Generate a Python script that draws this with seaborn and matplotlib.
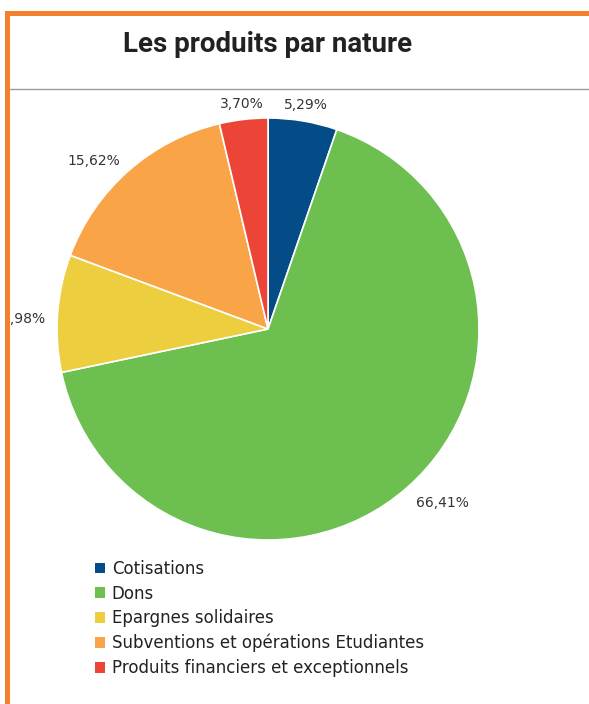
import matplotlib
matplotlib.use("Agg")
import matplotlib.pyplot as plt
import numpy as np
import seaborn as sns
from matplotlib.patches import Rectangle, Patch
from matplotlib.lines import Line2D

# Produits par nature (en %)
categories = [
    "Cotisations",
    "Dons",
    "Epargnes solidaires",
    "Subventions et opérations Etudiantes",
    "Produits financiers et exceptionnels",
]
values = [5.29, 66.41, 8.98, 15.62, 3.70]
value_labels = ["5,29%", "66,41%", "8,98%", "15,62%", "3,70%"]
colors = ["#034c87", "#6dbf4f", "#ecce3f", "#f8a447", "#ec4437"]
title = "Les produits par nature"

sns.set_theme(style="white")
plt.rcParams["font.family"] = ["DejaVu Sans"]

W, H = 589, 704
fig = plt.figure(figsize=(W / 100, H / 100), dpi=100)
fig.patch.set_facecolor("white")


def fx(px):
    return px / W


def fy(py):
    return 1 - py / H


# pie area (square in pixels)
cx, cy, r = 268, 329, 211
ax = fig.add_axes([fx(cx - r), fy(cy + r), 2 * r / W, 2 * r / H])
ax.axis("off")

wedges, _ = ax.pie(
    values,
    colors=colors,
    startangle=90,
    counterclock=False,
    radius=1,
    wedgeprops=dict(edgecolor="white", linewidth=1.2),
)
ax.set_xlim(-1, 1)
ax.set_ylim(-1, 1)

# value labels just outside each wedge
for w, lab in zip(wedges, value_labels):
    ang = np.deg2rad((w.theta1 + w.theta2) / 2)
    c, s = np.cos(ang), np.sin(ang)
    if abs(c) < 0.3:
        ha, d = "center", 1.075
    else:
        ha, d = ("left" if c > 0 else "right"), 1.06
    dy = -0.03 if s < 0.3 else 0
    ax.text(d * c, d * s + dy, lab, ha=ha, va="center",
            fontsize=10, color="#333333", clip_on=False)

# title
fig.text(fx(268), fy(44), title, ha="center", va="center", fontsize=20,
         fontweight="bold", color="#222222",
         family=["Liberation Sans Narrow", "DejaVu Sans Condensed", "Roboto", "DejaVu Sans"])

# rule under the title
fig.add_artist(Line2D([fx(10), 1], [fy(89), fy(89)], transform=fig.transFigure,
                      color="#9a9a9a", linewidth=1.0, zorder=5))

# orange frame (top and left), drawn over the chart
orange = "#f47f2c"
fig.add_artist(Rectangle((0, 0), fx(5), 1, transform=fig.transFigure,
                         facecolor="white", edgecolor="none", zorder=9))
fig.add_artist(Rectangle((fx(5), 0), fx(10) - fx(5), fy(11), transform=fig.transFigure,
                         facecolor=orange, edgecolor="none", zorder=10))
fig.add_artist(Rectangle((fx(5), fy(16)), 1 - fx(5), fy(11) - fy(16), transform=fig.transFigure,
                         facecolor=orange, edgecolor="none", zorder=10))
fig.add_artist(Rectangle((0, fy(11)), 1, 1 - fy(11), transform=fig.transFigure,
                         facecolor="white", edgecolor="none", zorder=9))

# legend
handles = [Patch(facecolor=c, edgecolor="none") for c in colors]
fig.legend(handles, categories, loc="upper left",
           bbox_to_anchor=(fx(95), fy(560)), bbox_transform=fig.transFigure,
           frameon=False, fontsize=12, handlelength=0.6, handleheight=0.6,
           handletextpad=0.4, labelspacing=0.4, borderpad=0, borderaxespad=0,
           labelcolor="#222222")

fig.savefig("out.png", dpi=100, facecolor="white")
